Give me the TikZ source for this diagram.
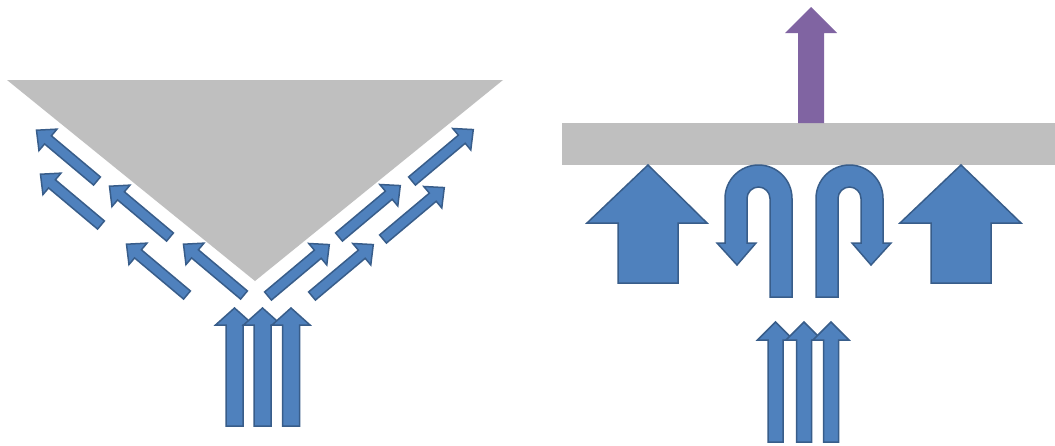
\documentclass[tikz,border=0pt]{standalone}
\begin{document}
\begin{tikzpicture}[x=1pt,y=-1pt]
\definecolor{fillblue}{HTML}{4F81BD}
\definecolor{lineblue}{HTML}{385D8A}
\definecolor{slab}{HTML}{BFBFBF}
\definecolor{lift}{HTML}{8064A2}
\tikzset{
  blk/.style={fill=fillblue, draw=lineblue, line width=1.5pt, line join=miter},
  slabstyle/.style={fill=slab, draw=none},
  liftstyle/.style={fill=lift, draw=none}
}
\newcommand\blkarrow[7]{%
  \draw[blk, shift={(#1,#2)}, rotate=#3]
    (0,-#5) -- ({#4-#7},-#5) -- ({#4-#7},-#6) -- (#4,0) -- ({#4-#7},#6) -- ({#4-#7},#5) -- (0,#5) -- cycle;}
\useasboundingbox (0,0) rectangle (1055,445);
\fill[white] (0,0) rectangle (1055,445);

% ---------- left figure ----------
\fill[slabstyle] (7,80) -- (503,80) -- (255,281) -- cycle;
% left side arrows (up-left)
\blkarrow{97}{181}{140}{79}{5.3}{14}{15}
\blkarrow{170}{237}{140}{79}{5.3}{14}{15}
\blkarrow{244}{295}{140}{79}{5.3}{14}{15}
\blkarrow{101}{225}{140}{79}{5.3}{14}{15}
\blkarrow{187}{295}{140}{79}{5.3}{14}{15}
% right side arrows (up-right)
\blkarrow{268}{296}{40}{80}{5.3}{14}{15}
\blkarrow{339}{237}{40}{80}{5.3}{14}{15}
\blkarrow{412}{181}{40}{80}{5.3}{14}{15}
\blkarrow{312}{296}{40}{80}{5.3}{14}{15}
\blkarrow{383}{239}{40}{80}{5.3}{14}{15}
% vertical arrows
\blkarrow{234.5}{426}{90}{118}{8.5}{19}{17}
\blkarrow{262.5}{426}{90}{118}{8.5}{19}{17}
\blkarrow{291}{426}{90}{118}{8.5}{19}{17}

% ---------- right figure ----------
\fill[slabstyle] (562,123) rectangle (1055,165);
% purple arrow
\fill[liftstyle] (798,123) -- (798,33) -- (785,33) -- (811,7) -- (837,33) -- (824,33) -- (824,123) -- cycle;
% big arrows
\draw[blk] (618,283) -- (618,223) -- (587,223) -- (648,165) -- (707,223) -- (678,223) -- (678,283) -- cycle;
\draw[blk] (931,283) -- (931,223) -- (900,223) -- (961,165) -- (1021,223) -- (991,223) -- (991,283) -- cycle;
% U-turn arrows
\draw[blk] (770,297) -- (792,297) -- (792,198.5)
  arc[start angle=0, end angle=-180, radius=33.5]
  -- (725,243) -- (717,243) -- (737,265) -- (756,243) -- (747,243) -- (747,198.5)
  arc[start angle=-180, end angle=0, radius=11.5] -- cycle;
\draw[blk] (838,297) -- (816,297) -- (816,198.5)
  arc[start angle=-180, end angle=0, radius=33.5]
  -- (883,243) -- (891,243) -- (871,265) -- (852,243) -- (861,243) -- (861,198.5)
  arc[start angle=0, end angle=-180, radius=11.5] -- cycle;
% vertical arrows
\blkarrow{775.5}{442}{90}{120}{7.5}{18}{18}
\blkarrow{804}{442}{90}{120}{7.5}{18}{18}
\blkarrow{831}{442}{90}{120}{7.5}{18}{18}
\end{tikzpicture}
\end{document}
